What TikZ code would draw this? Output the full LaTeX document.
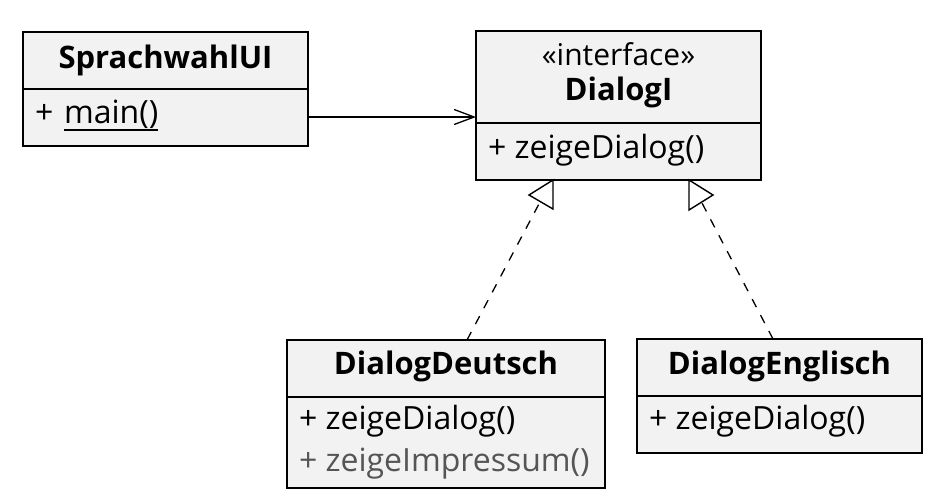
\documentclass[tikz,border=0pt]{standalone}
\usepackage{fontspec}
\setmainfont{Open Sans}
\usetikzlibrary{arrows.meta}
\definecolor{boxfill}{RGB}{242,242,242}
\definecolor{subgray}{RGB}{85,85,85}
\begin{document}
\begin{tikzpicture}[x=1pt,y=-1pt,
  cls/.style={draw=black, line width=1.5pt, fill=boxfill, rectangle, inner sep=0pt, outer sep=0pt, anchor=north west},
  divider/.style={line width=1.5pt},
  txt/.style={inner sep=0pt, outer sep=0pt, font=\fontsize{30}{36}\selectfont},
  hdr/.style={txt, anchor=base, font=\fontsize{31}{37}\selectfont\bfseries},
  mem/.style={txt, anchor=base west, font=\fontsize{32}{38}\selectfont},
  assoc/.style={line width=1.3pt, -{Straight Barb[length=20pt,width=15pt,line width=1.3pt]}},
  realize/.style={line width=1.3pt, dash pattern=on 9pt off 9pt},
  tri/.style={line width=1.4pt, line join=miter, fill=white}]
\useasboundingbox (0,0) rectangle (951,501);

% SprachwahlUI
\node[cls, minimum width=285pt, minimum height=114pt] (spr) at (23,32) {};
\draw[divider] (spr.west |- 0,89) -- (spr.east |- 0,89);
\node[hdr] (sprT) at (165.5,68) {SprachwahlUI};
\node[mem] (sprP) at (35,123) {+};
\node[mem] (sprM) at (64,123) {main()};
\draw[line width=1.2pt] ([yshift=-7pt]sprM.base west) -- ([yshift=-7pt]sprM.base east);

% DialogI
\node[cls, minimum width=285pt, minimum height=149pt] (dlg) at (476,31) {};
\draw[divider] (dlg.west |- 0,123) -- (dlg.east |- 0,123);
\node[txt, anchor=base] (dlgS) at (618.5,65) {«interface»};
\node[hdr] (dlgT) at (618.5,100) {DialogI};
\node[mem] (dlgM) at (488,158) {+ zeigeDialog()};

% DialogDeutsch
\node[cls, minimum width=318pt, minimum height=148pt] (deu) at (287,340) {};
\draw[divider] (deu.west |- 0,397) -- (deu.east |- 0,397);
\node[hdr] (deuT) at (446,374) {DialogDeutsch};
\node[mem] (deuM1) at (299,429) {+ zeigeDialog()};
\node[mem, text=subgray] (deuM2) at (299,471) {+ zeigeImpressum()};

% DialogEnglisch
\node[cls, minimum width=285pt, minimum height=114pt] (eng) at (637,339) {};
\draw[divider] (eng.west |- 0,396) -- (eng.east |- 0,396);
\node[hdr] (engT) at (779.5,374) {DialogEnglisch};
\node[mem] (engM) at (649,429) {+ zeigeDialog()};

% association
\draw[assoc] ([yshift=-28pt]spr.east) -- ([yshift=-28pt]spr.east -| dlg.west);

% realizations
\coordinate (tl) at (540,202);
\coordinate (tr) at (702,203);
\draw[realize] ([xshift=21pt]deu.north) -- (tl);
\draw[realize] ([xshift=-6.5pt]eng.north) -- (tr);
\draw[tri] (553,180) -- (529,195) -- (553,209) -- cycle;
\draw[tri] (689,180) -- (713,195) -- (689,210) -- cycle;
\end{tikzpicture}
\end{document}
